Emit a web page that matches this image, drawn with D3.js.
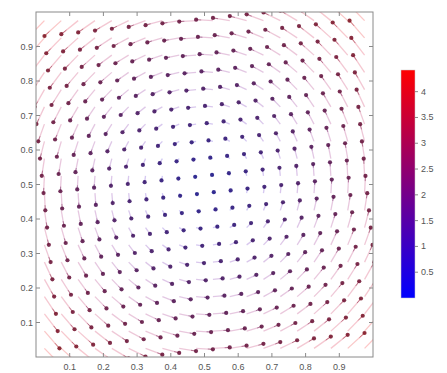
<!DOCTYPE html>
<html>
<head>
<meta charset="utf-8">
<script src="https://cdn.jsdelivr.net/npm/d3@7"></script>
<style>
html,body{margin:0;padding:0;background:#fff;}
svg{display:block;}
text{font-family:"Liberation Sans",Arial,sans-serif;}
</style>
</head>
<body>
<div id="chart"></div>
<script>
// grid coordinates of the vector field
const xGrid = [0.025,0.075,0.125,0.175,0.225,0.275,0.325,0.375,0.425,0.475,0.525,0.575,0.625,0.675,0.725,0.775,0.825,0.875,0.925,0.975];
const yGrid = [0.025,0.075,0.125,0.175,0.225,0.275,0.325,0.375,0.425,0.475,0.525,0.575,0.625,0.675,0.725,0.775,0.825,0.875,0.925,0.975];
// horizontal velocity per row (depends on y), vertical velocity per column (depends on x)
const uByRow = [2.985,2.670,2.356,2.042,1.728,1.414,1.100,0.785,0.471,0.157,-0.157,-0.471,-0.785,-1.100,-1.414,-1.728,-2.042,-2.356,-2.670,-2.985];
const vByCol = [-2.985,-2.670,-2.356,-2.042,-1.728,-1.414,-1.100,-0.785,-0.471,-0.157,0.157,0.471,0.785,1.100,1.414,1.728,2.042,2.356,2.670,2.985];
const xTicks = [0.1,0.2,0.3,0.4,0.5,0.6,0.7,0.8,0.9];
const yTicks = [0.1,0.2,0.3,0.4,0.5,0.6,0.7,0.8,0.9];
const cbTicks = [0.5,1,1.5,2,2.5,3,3.5,4];
const cbDomain = [0, 4.42];

const W = 447, H = 373;
const L = 36, R = 373, T = 12, B = 357;
const arrowScale = 0.0167;

const svg = d3.select("#chart").append("svg").attr("width", W).attr("height", H);
const x = d3.scaleLinear().domain([0,1]).range([L,R]);
const y = d3.scaleLinear().domain([0,1]).range([B,T]);
const color = d3.scaleLinear().domain(cbDomain).range(["#0000ff","#ff0000"]).interpolate(d3.interpolateRgb);

const defs = svg.append("defs");
defs.append("clipPath").attr("id","clip")
  .append("rect").attr("x",L).attr("y",T).attr("width",R-L).attr("height",B-T);
defs.append("filter").attr("id","soft").append("feGaussianBlur").attr("stdDeviation",0.45);

const pts = [];
yGrid.forEach((yy,j)=>{
  xGrid.forEach((xx,i)=>{
    const u = uByRow[j], v = vByCol[i];
    const m = Math.sqrt(u*u+v*v);
    pts.push({x0:xx,y0:yy,x1:xx+arrowScale*u,y1:yy+arrowScale*v,m});
  });
});

const g = svg.append("g").attr("clip-path","url(#clip)");
const gi = g.append("g").attr("filter","url(#soft)");
gi.selectAll("line.shaft").data(pts).join("line").attr("class","shaft")
  .attr("x1",d=>x(d.x0)).attr("y1",d=>y(d.y0))
  .attr("x2",d=>x(d.x1)).attr("y2",d=>y(d.y1))
  .attr("stroke",d=>color(d.m)).attr("stroke-opacity",0.22).attr("stroke-width",1.3);
gi.selectAll("line.head").data(pts).join("line").attr("class","head")
  .attr("x1",d=>x(d.x1-(d.x1-d.x0)*0.3)).attr("y1",d=>y(d.y1-(d.y1-d.y0)*0.3))
  .attr("x2",d=>x(d.x1)).attr("y2",d=>y(d.y1))
  .attr("stroke",d=>d3.interpolateRgb(color(d.m),"#444")(0.5)).attr("stroke-opacity",0.5).attr("stroke-width",1);
gi.selectAll("circle").data(pts).join("circle")
  .attr("cx",d=>x(d.x1)).attr("cy",d=>y(d.y1)).attr("r",2.1)
  .attr("fill",d=>d3.interpolateRgb(color(d.m),"#303030")(0.55)).attr("fill-opacity",0.9);

// axes box
const axCol = "#8a8a8a", txtCol = "#555";
svg.append("rect").attr("x",L).attr("y",T).attr("width",R-L).attr("height",B-T)
  .attr("fill","none").attr("stroke",axCol).attr("stroke-width",1);
const ax = svg.append("g");
xTicks.forEach(t=>{
  ax.append("line").attr("x1",x(t)).attr("x2",x(t)).attr("y1",B).attr("y2",B-4).attr("stroke",axCol);
  ax.append("line").attr("x1",x(t)).attr("x2",x(t)).attr("y1",T).attr("y2",T+4).attr("stroke",axCol);
  ax.append("text").attr("x",x(t)).attr("y",B+13).attr("text-anchor","middle")
    .attr("font-size",9).attr("fill",txtCol).text(d3.format(".1f")(t));
});
yTicks.forEach(t=>{
  ax.append("line").attr("x1",L).attr("x2",L+4).attr("y1",y(t)).attr("y2",y(t)).attr("stroke",axCol);
  ax.append("line").attr("x1",R).attr("x2",R-4).attr("y1",y(t)).attr("y2",y(t)).attr("stroke",axCol);
  ax.append("text").attr("x",L-3).attr("y",y(t)+3).attr("text-anchor","end")
    .attr("font-size",9).attr("fill",txtCol).text(d3.format(".1f")(t));
});

// colorbar
const cbX = 401, cbW = 14, cbT = 70, cbB = 298;
const cy = d3.scaleLinear().domain(cbDomain).range([cbB,cbT]);
const grad = defs.append("linearGradient").attr("id","cbgrad")
  .attr("x1","0").attr("y1","1").attr("x2","0").attr("y2","0");
grad.append("stop").attr("offset","0%").attr("stop-color",color(cbDomain[0]));
grad.append("stop").attr("offset","100%").attr("stop-color",color(cbDomain[1]));
svg.append("rect").attr("x",cbX).attr("y",cbT).attr("width",cbW).attr("height",cbB-cbT)
  .attr("fill","url(#cbgrad)").attr("stroke","#ccc").attr("stroke-width",0.5);
cbTicks.forEach(t=>{
  svg.append("line").attr("x1",cbX+cbW).attr("x2",cbX+cbW+3).attr("y1",cy(t)).attr("y2",cy(t)).attr("stroke",axCol);
  svg.append("text").attr("x",cbX+cbW+6).attr("y",cy(t)+3).attr("font-size",9).attr("fill",txtCol).text(t);
});
</script>
</body>
</html>
